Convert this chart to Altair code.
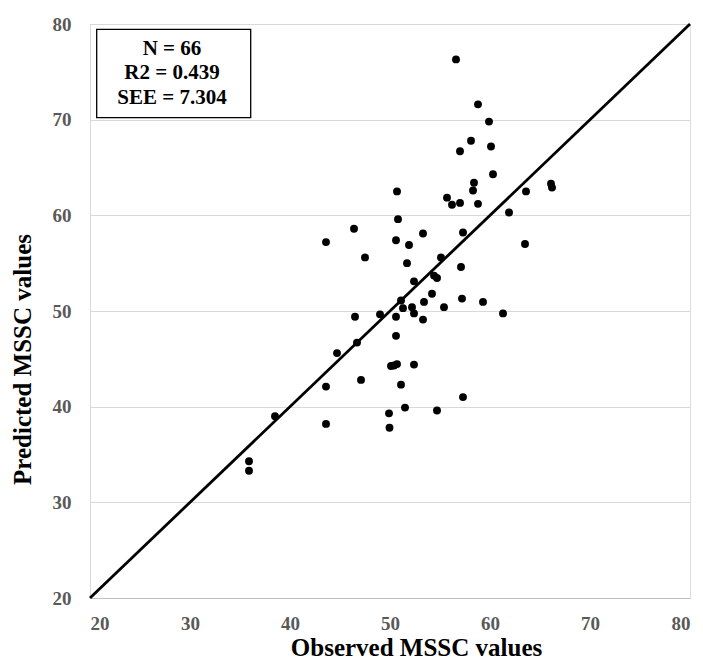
import altair as alt
import pandas as pd

# Observed vs predicted MSSC values
observed = [56.6, 58.8, 59.9, 58.1, 57.0, 60.1, 60.3, 58.4, 58.3, 58.8,
            57.0, 56.2, 55.7, 63.6, 66.1, 66.2, 61.9, 63.5, 50.7, 50.8,
            46.4, 43.6, 50.6, 51.9, 53.3, 57.3, 47.5, 51.7, 55.1, 57.1,
            52.4, 54.4, 54.7, 54.2, 57.2, 59.3, 61.3, 55.4, 53.4, 53.3,
            51.1, 51.3, 52.2, 52.4, 50.6, 49.0, 46.5, 46.7, 44.7, 50.6,
            50.1, 50.7, 52.4, 47.1, 51.1, 43.6, 57.3, 51.5, 49.9, 54.7,
            49.95, 43.6, 38.5, 35.9, 35.9, 50.4]
predicted = [76.3, 71.6, 69.8, 67.8, 66.7, 67.2, 64.3, 63.4, 62.6, 61.2,
             61.3, 61.1, 61.85, 62.5, 63.3, 62.9, 60.3, 57.0, 62.5, 59.6,
             58.6, 57.2, 57.4, 56.9, 58.1, 58.2, 55.6, 55.0, 55.6, 54.6,
             53.1, 53.7, 53.45, 51.8, 51.3, 50.95, 49.75, 50.4, 50.95, 49.1,
             51.1, 50.3, 50.4, 49.75, 49.4, 49.65, 49.4, 46.7, 45.6, 47.4,
             44.25, 44.45, 44.4, 42.8, 42.3, 42.1, 41.0, 39.9, 39.3, 39.6,
             37.8, 38.2, 39.0, 34.3, 33.3, 44.3]

identity_line = [20, 80]
tick_values = [20, 30, 40, 50, 60, 70, 80]
stats_lines = ["N = 66", "R2 = 0.439", "SEE = 7.304"]

FONT = "Liberation Serif"

pts = pd.DataFrame({"obs": observed, "pred": predicted})
line_df = pd.DataFrame({"obs": identity_line, "pred": identity_line})
one = pd.DataFrame({"k": [0]})

xscale = alt.Scale(domain=[20, 80], nice=False, zero=False)
yscale = alt.Scale(domain=[20, 80], nice=False, zero=False)

xaxis = alt.Axis(values=tick_values, grid=False, ticks=False,
                 domainColor="#bfbfbf", domainWidth=1.2,
                 labelFont=FONT, labelFontWeight="bold", labelFontSize=19,
                 labelColor="#595959", labelPadding=16,
                 title="Observed MSSC values", titleFont=FONT,
                 titleFontWeight="bold", titleFontSize=25, titleColor="black",
                 titleX=326, titleY=49, titleBaseline="middle", titleAlign="center")
yaxis = alt.Axis(values=tick_values, grid=True, gridColor="#d9d9d9", gridWidth=1,
                 ticks=False, domainColor="#d9d9d9", domainWidth=1,
                 labelFont=FONT, labelFontWeight="bold", labelFontSize=19,
                 labelColor="#595959", labelPadding=19,
                 title="Predicted MSSC values", titleFont=FONT,
                 titleFontWeight="bold", titleFontSize=25, titleColor="black",
                 titleX=-68, titleY=335, titleBaseline="middle", titleAlign="center",
                 titleAngle=270)

points = alt.Chart(pts).mark_circle(size=62, color="black", opacity=1).encode(
    x=alt.X("obs:Q", scale=xscale, axis=xaxis),
    y=alt.Y("pred:Q", scale=yscale, axis=yaxis),
)

diag = alt.Chart(line_df).mark_line(color="black", strokeWidth=2.8).encode(
    x=alt.X("obs:Q", scale=xscale),
    y=alt.Y("pred:Q", scale=yscale),
)

box = alt.Chart(one).mark_rect(fill="white", stroke="black", strokeWidth=1.3).encode(
    x=alt.value(6.7), x2=alt.value(160.7), y=alt.value(5.3), y2=alt.value(93.7)
)

stats = alt.Chart(one).mark_text(
    text=stats_lines, font=FONT, fontWeight="bold", fontSize=21,
    lineHeight=24.5, align="center", baseline="middle", color="black"
).encode(x=alt.value(82), y=alt.value(24.5))

chart = alt.layer(box, stats, diag, points).properties(
    width=600, height=574,
    padding={"left": 82, "top": 16, "right": 5, "bottom": 70},
    autosize=alt.AutoSizeParams(type="none"),
).configure_view(stroke=None).configure(background="white")

chart.save("out.html", embed_options={"renderer": "svg", "actions": False})
